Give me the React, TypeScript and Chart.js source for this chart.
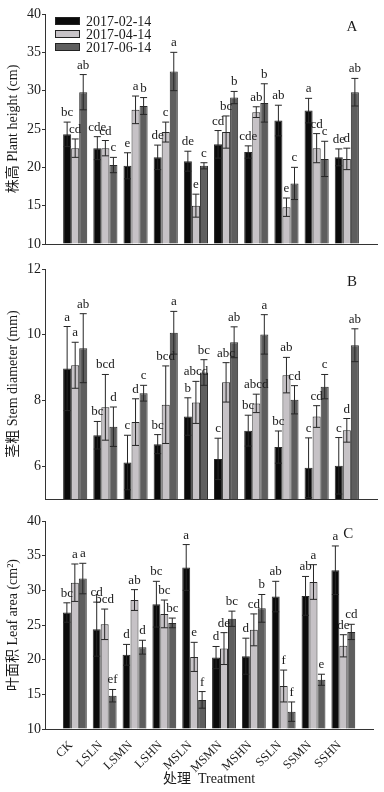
import React, { useEffect, useRef } from 'react';
import { Chart, registerables } from 'chart.js';

Chart.register(...registerables);

const categories = ['CK', 'LSLN', 'LSMN', 'LSHN', 'MSLN', 'MSMN', 'MSHN', 'SSLN', 'SSMN', 'SSHN'];
const seriesNames = ['2017-02-14', '2017-04-14', '2017-06-14'];
const seriesColors = ['#0b0b0b', '#c6c2c6', '#5e5e5e'];

// Panel A: plant height (cm)
const heightFeb = [24.3, 22.5, 20.2, 21.3, 20.8, 23.0, 22.0, 26.1, 27.4, 21.3];
const heightFebErr = [1.6, 1.5, 1.7, 1.6, 1.3, 1.8, 0.8, 2.0, 1.6, 1.1];
const heightApr = [22.5, 22.5, 27.5, 24.6, 15.0, 24.6, 27.2, 14.8, 22.5, 21.1];
const heightAprErr = [1.2, 1.0, 1.8, 1.3, 1.5, 2.1, 0.7, 1.2, 1.9, 1.4];
const heightJun = [29.8, 20.3, 28.0, 32.5, 20.2, 29.1, 28.4, 17.9, 21.1, 29.8];
const heightJunErr = [2.3, 1.0, 1.1, 2.5, 0.4, 0.8, 2.5, 2.1, 2.3, 1.8];
const heightFebSig = ['bc', 'cde', 'e', 'de', 'de', 'cd', 'cde', 'ab', 'a', 'de'];
const heightAprSig = ['cd', 'cd', 'a', 'c', 'e', 'bc', 'ab', 'e', 'cd', 'd'];
const heightJunSig = ['ab', 'c', 'b', 'a', 'c', 'b', 'b', 'c', 'c', 'ab'];
const heightTicks = [10, 15, 20, 25, 30, 35, 40];

// Panel B: stem diameter (mm)
const diameterFeb = [8.97, 6.94, 6.11, 6.67, 7.51, 6.22, 7.08, 6.58, 5.95, 6.01];
const diameterFebErr = [1.28, 0.42, 0.83, 0.29, 0.57, 0.63, 0.47, 0.49, 0.91, 0.86];
const diameterApr = [9.07, 7.79, 7.34, 7.87, 7.94, 8.55, 7.91, 8.77, 7.51, 7.09];
const diameterAprErr = [0.7, 1.0, 0.71, 1.18, 0.64, 0.6, 0.28, 0.54, 0.33, 0.36];
const diameterJun = [9.59, 7.2, 8.22, 10.06, 8.85, 9.77, 10.01, 8.02, 8.42, 9.68];
const diameterJunErr = [1.05, 0.6, 0.24, 0.65, 0.39, 0.47, 0.6, 0.43, 0.37, 0.5];
const diameterFebSig = ['a', 'bc', 'c', 'bc', 'b', 'c', 'bc', 'bc', 'c', 'c'];
const diameterAprSig = ['a', 'bcd', 'd', 'bcd', 'abcd', 'abc', 'abcd', 'ab', 'cd', 'd'];
const diameterJunSig = ['ab', 'd', 'c', 'a', 'bc', 'ab', 'a', 'cd', 'c', 'ab'];
const diameterTicks = [6, 8, 10, 12];

// Panel C: leaf area (cm2)
const areaFeb = [26.8, 24.4, 20.7, 28.0, 33.3, 20.3, 20.5, 29.1, 29.2, 32.9];
const areaFebErr = [1.4, 3.9, 1.5, 3.3, 3.3, 1.6, 2.6, 2.2, 2.8, 3.5];
const areaApr = [31.1, 25.1, 28.6, 26.6, 20.4, 21.6, 24.3, 16.2, 31.2, 22.0];
const areaAprErr = [2.7, 2.2, 1.5, 2.0, 2.1, 2.3, 2.3, 2.3, 2.5, 1.6];
const areaJun = [31.7, 14.8, 21.8, 25.3, 14.2, 25.9, 27.4, 12.5, 17.1, 24.0];
const areaJunErr = [2.2, 0.9, 1.0, 0.7, 1.2, 1.1, 2.0, 1.4, 0.8, 1.1];
const areaFebSig = ['bc', 'cd', 'd', 'bc', 'a', 'd', 'd', 'ab', 'ab', 'a'];
const areaAprSig = ['a', 'bcd', 'ab', 'bc', 'e', 'de', 'cd', 'f', 'a', 'de'];
const areaJunSig = ['a', 'ef', 'd', 'bc', 'f', 'bc', 'b', 'f', 'e', 'cd'];
const areaTicks = [10, 15, 20, 25, 30, 35, 40];

const FONT = "'Liberation Serif', 'Times New Roman', 'Noto Sans CJK SC', serif";
const INK = '#1a1a1a';

type PanelSpec = {
  tag: string;
  values: number[][];
  errs: number[][];
  sigs: string[][];
  min: number;
  max: number;
  ticks: number[];
  title: string;
  padTop: number;
  padBottom: number;
  showX: boolean;
  legend: boolean;
};

function buildConfig(p: PanelSpec): any {
  const labels = ['', ...categories, ''];
  const annot = {
    id: 'annot_' + p.tag,
    afterDatasetsDraw(chart: any) {
      const ctx = chart.ctx;
      const ys = chart.scales.y;
      const area = chart.chartArea;
      ctx.save();
      chart.data.datasets.forEach((ds: any, di: number) => {
        const meta = chart.getDatasetMeta(di);
        meta.data.forEach((bar: any, i: number) => {
          const v = ds.data[i];
          if (v == null) return;
          const e = p.errs[di][i - 1];
          const x = bar.x;
          const yt = ys.getPixelForValue(v + e);
          const yb = ys.getPixelForValue(v - e);
          ctx.strokeStyle = '#262626';
          ctx.lineWidth = 1;
          ctx.beginPath();
          ctx.moveTo(x, yt);
          ctx.lineTo(x, yb);
          ctx.moveTo(x - 3.5, yt);
          ctx.lineTo(x + 3.5, yt);
          ctx.moveTo(x - 3.5, yb);
          ctx.lineTo(x + 3.5, yb);
          ctx.stroke();
          ctx.fillStyle = INK;
          ctx.font = '13px ' + FONT;
          ctx.textAlign = 'center';
          ctx.textBaseline = 'alphabetic';
          ctx.fillText(p.sigs[di][i - 1], x, yt - 6);
        });
      });
      // panel letter
      ctx.fillStyle = INK;
      ctx.font = '15px ' + FONT;
      ctx.textAlign = 'center';
      ctx.textBaseline = 'middle';
      ctx.fillText(p.tag, area.right - 25, area.top + 13);
      if (p.legend) {
        ctx.font = '14px ' + FONT;
        ctx.textAlign = 'left';
        seriesNames.forEach((name, k) => {
          const cy = area.top + 7 + k * 13;
          const bx = area.left + 10;
          ctx.fillStyle = seriesColors[k];
          ctx.fillRect(bx, cy - 4, 25, 8);
          ctx.strokeStyle = '#222';
          ctx.lineWidth = 1;
          ctx.strokeRect(bx + 0.5, cy - 3.5, 24, 7);
          ctx.fillStyle = INK;
          ctx.fillText(name, bx + 31, cy + 1);
        });
      }
      ctx.restore();
    },
  };

  return {
    type: 'bar',
    data: {
      labels,
      datasets: seriesNames.map((name, k) => ({
        label: name,
        data: [null, ...p.values[k], null],
        backgroundColor: seriesColors[k],
        borderColor: '#2b2b2b',
        borderWidth: 1,
        base: p.min,
        categoryPercentage: 0.8,
        barPercentage: 1.0,
      })),
    },
    options: {
      responsive: false,
      animation: false,
      devicePixelRatio: 1,
      layout: { padding: { top: p.padTop, bottom: p.padBottom, left: 0, right: 7 } },
      plugins: { legend: { display: false }, tooltip: { enabled: false } },
      scales: {
        x: {
          type: 'category',
          offset: false,
          grid: { display: false },
          border: { display: true, color: '#333', width: 1 },
          ticks: {
            display: p.showX,
            autoSkip: false,
            maxRotation: 45,
            minRotation: 45,
            padding: 2,
            labelOffset: -4,
            color: INK,
            font: { family: FONT, size: 12.5, lineHeight: 1 },
          },
          title: {
            display: p.showX,
            text: '处理  Treatment',
            color: INK,
            font: { family: FONT, size: 14 },
            padding: { top: 0, bottom: 4 },
          },
          afterFit: (s: any) => {
            s.height = p.showX ? 63 : 0;
          },
        },
        y: {
          type: 'linear',
          min: p.min,
          max: p.max,
          afterBuildTicks: (s: any) => {
            s.ticks = p.ticks.map((v) => ({ value: v }));
          },
          grid: { display: true, drawOnChartArea: false, drawTicks: true, tickLength: 3, color: '#333' },
          border: { display: true, color: '#333', width: 1 },
          ticks: { color: INK, padding: 1, font: { family: FONT, size: 14 } },
          title: {
            display: true,
            text: p.title,
            color: INK,
            font: { family: FONT, size: 14 },
            padding: { top: 5, bottom: 0 },
          },
          afterFit: (s: any) => {
            s.width = 45;
          },
        },
      },
    },
    plugins: [annot],
  };
}

const panels: PanelSpec[] = [
  {
    tag: 'A',
    values: [heightFeb, heightApr, heightJun],
    errs: [heightFebErr, heightAprErr, heightJunErr],
    sigs: [heightFebSig, heightAprSig, heightJunSig],
    min: 10,
    max: 40,
    ticks: heightTicks,
    title: '株高 Plant height (cm)',
    padTop: 14,
    padBottom: 548,
    showX: false,
    legend: true,
  },
  {
    tag: 'B',
    values: [diameterFeb, diameterApr, diameterJun],
    errs: [diameterFebErr, diameterAprErr, diameterJunErr],
    sigs: [diameterFebSig, diameterAprSig, diameterJunSig],
    min: 5,
    max: 12,
    ticks: diameterTicks,
    title: '茎粗 Stem diameter (mm)',
    padTop: 269,
    padBottom: 293,
    showX: false,
    legend: false,
  },
  {
    tag: 'C',
    values: [areaFeb, areaApr, areaJun],
    errs: [areaFebErr, areaAprErr, areaJunErr],
    sigs: [areaFebSig, areaAprSig, areaJunSig],
    min: 10,
    max: 40,
    ticks: areaTicks,
    title: '叶面积 Leaf area (cm²)',
    padTop: 521,
    padBottom: 0,
    showX: true,
    legend: false,
  },
];

export default function App() {
  const r1 = useRef<HTMLCanvasElement>(null);
  const r2 = useRef<HTMLCanvasElement>(null);
  const r3 = useRef<HTMLCanvasElement>(null);
  const refs = [r1, r2, r3];

  useEffect(() => {
    const charts = panels.map((p, i) => new Chart(refs[i].current as HTMLCanvasElement, buildConfig(p)));
    return () => charts.forEach((c) => c.destroy());
  }, []);

  return (
    <div style={{ position: 'absolute', left: 0, top: 0, width: 384, height: 792, background: '#fff' }}>
      {refs.map((r, i) => (
        <canvas
          key={i}
          ref={r}
          width={384}
          height={792}
          style={{ position: 'absolute', left: 0, top: 0, width: 384, height: 792 }}
        />
      ))}
    </div>
  );
}
